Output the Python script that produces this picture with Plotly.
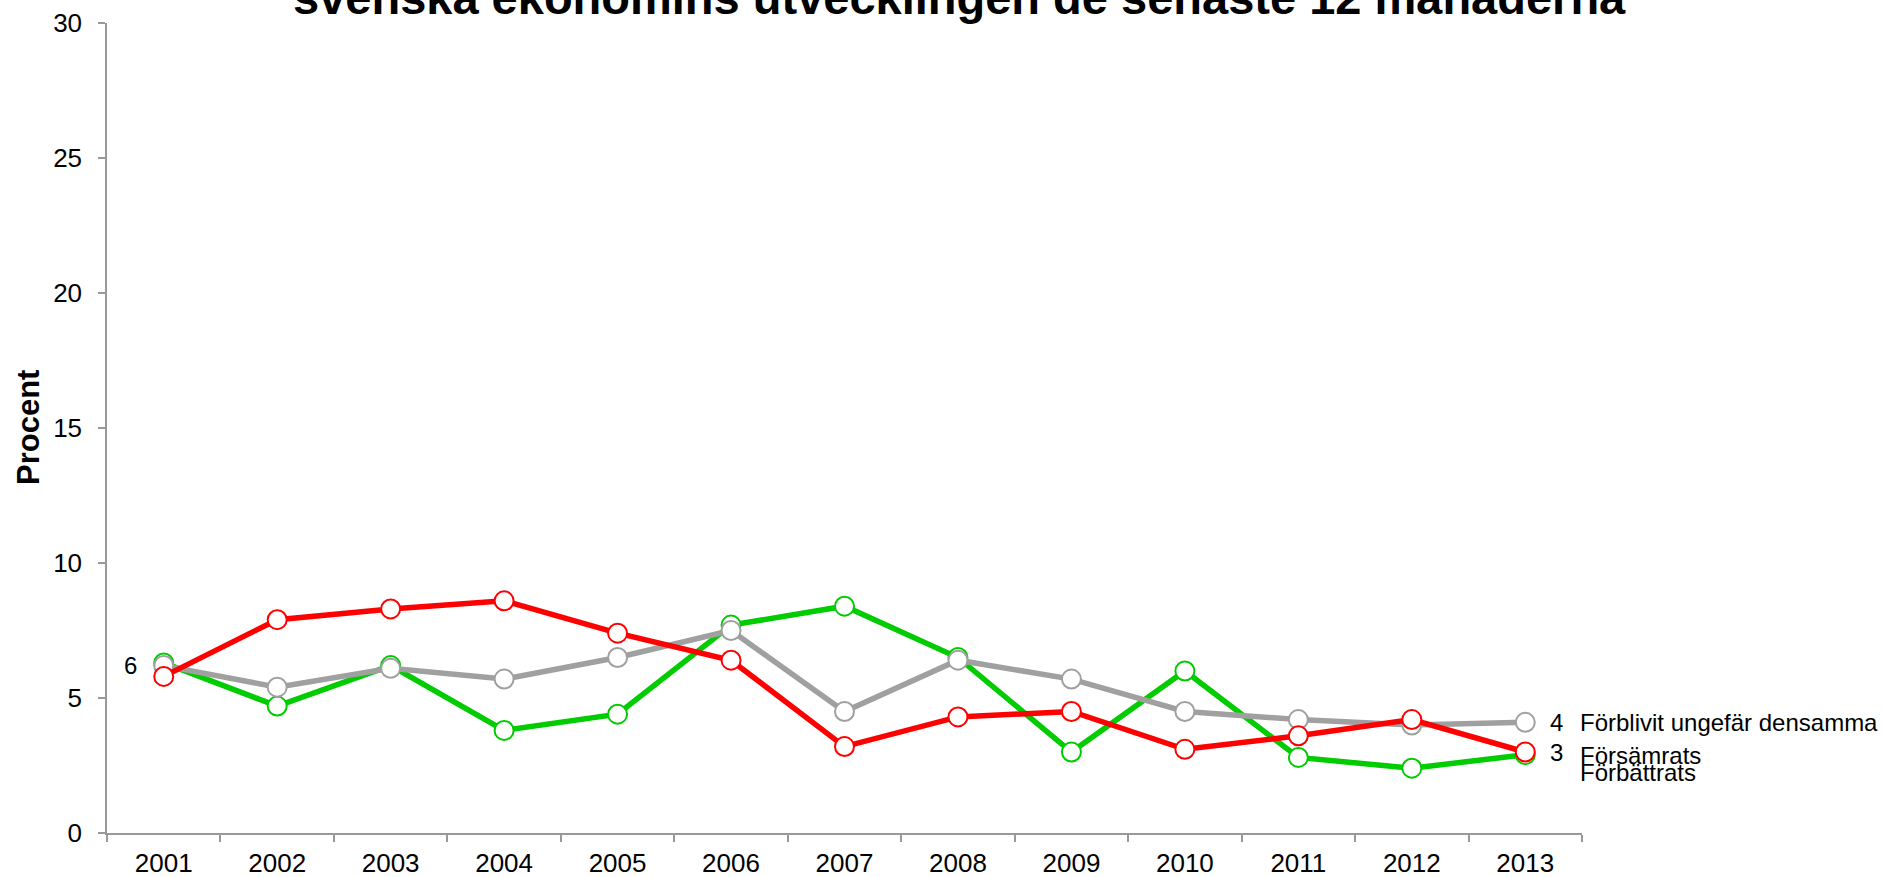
import plotly.graph_objects as go

years = ["2001", "2002", "2003", "2004", "2005", "2006", "2007",
         "2008", "2009", "2010", "2011", "2012", "2013"]

forbattrats = [6.3, 4.7, 6.2, 3.8, 4.4, 7.7, 8.4, 6.5, 3.0, 6.0, 2.8, 2.4, 2.9]
forblivit = [6.2, 5.4, 6.1, 5.7, 6.5, 7.5, 4.5, 6.4, 5.7, 4.5, 4.2, 4.0, 4.1]
forsamrats = [5.8, 7.9, 8.3, 8.6, 7.4, 6.4, 3.2, 4.3, 4.5, 3.1, 3.6, 4.2, 3.0]

series_names = ["Förbättrats", "Förblivit ungefär densamma", "Försämrats"]
series_values = [forbattrats, forblivit, forsamrats]
series_colors = ["#00CC00", "#A0A0A0", "#FF0000"]

title_text = "svenska ekonomins utvecklingen de senaste 12 månaderna"
y_title = "Procent"
y_ticks = [0, 5, 10, 15, 20, 25, 30]

W, H = 1883, 877
L, R, T, B = 107, 301, 23, 44
plot_w = W - L - R
plot_h = H - T - B

base_font = "Liberation Sans, Arial, sans-serif"

fig = go.Figure()

for name, vals, col in zip(series_names, series_values, series_colors):
    fig.add_trace(go.Scatter(
        x=years, y=vals, name=name, mode="lines+markers",
        line=dict(color=col, width=5.5),
        marker=dict(symbol="circle", size=19, color="white",
                    line=dict(color=col, width=2)),
        showlegend=False, cliponaxis=False,
    ))

annotations = []
first_idx, last_idx = 0, len(years) - 1

# starting value, shown once to the left of the first point
annotations.append(dict(
    x=first_idx, y=forblivit[0], xref="x", yref="y",
    text=f"{forblivit[0]:.0f}", showarrow=False,
    xanchor="right", yanchor="middle", xshift=-25,
    font=dict(family=base_font, size=24, color="black"),
))

# end values and series names at the right-hand end
name_yshift = {"Förbättrats": -18, "Förblivit ungefär densamma": 0, "Försämrats": -3}
for name, vals in zip(series_names, series_values):
    if name != "Förbättrats":
        annotations.append(dict(
            x=last_idx, y=vals[-1], xref="x", yref="y",
            text=f"{vals[-1]:.0f}", showarrow=False,
            xanchor="left", yanchor="middle", xshift=23,
            font=dict(family=base_font, size=24, color="black"),
        ))
    annotations.append(dict(
        x=last_idx, y=vals[-1], xref="x", yref="y",
        text=name, showarrow=False,
        xanchor="left", yanchor="middle", xshift=53,
        yshift=name_yshift[name],
        font=dict(family=base_font, size=24, color="black"),
    ))

# chart title (its upper part runs past the top edge)
annotations.append(dict(
    x=(959 - L) / plot_w, y=1 - 3 / plot_h, xref="paper", yref="paper",
    text=f"<b>{title_text}</b>", showarrow=False,
    xanchor="center", yanchor="bottom",
    font=dict(family=base_font, size=47, color="black"),
))

# y-axis title
annotations.append(dict(
    x=(28 - L) / plot_w, y=0.5, xref="paper", yref="paper",
    text=f"<b>{y_title}</b>", showarrow=False, textangle=-90,
    xanchor="center", yanchor="middle",
    font=dict(family=base_font, size=31, color="black"),
))

fig.update_layout(
    width=W, height=H,
    margin=dict(l=L, r=R, t=T, b=B, pad=0, autoexpand=False),
    paper_bgcolor="white", plot_bgcolor="white",
    annotations=annotations,
    font=dict(family=base_font, size=24, color="black"),
)

fig.update_xaxes(
    type="category", range=[-0.5, len(years) - 0.5], automargin=False,
    showline=True, linecolor="#999999", linewidth=1.5,
    ticks="outside", tickson="boundaries", ticklen=7, tickwidth=1.5,
    tickcolor="#999999", showgrid=False, zeroline=False,
    tickfont=dict(family=base_font, size=26, color="black"),
    ticklabelstandoff=6,
)
fig.update_yaxes(
    range=[0, 30], tickvals=y_ticks, automargin=False,
    showline=True, linecolor="#999999", linewidth=1.5,
    ticks="outside", ticklen=7, tickwidth=1.5, tickcolor="#999999",
    showgrid=False, zeroline=False,
    tickfont=dict(family=base_font, size=26, color="black"),
    ticklabelstandoff=11,
)

fig.write_html("out.html")
